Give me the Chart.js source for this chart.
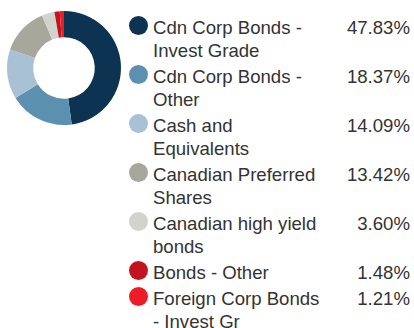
<!DOCTYPE html>
<html>
<head>
<meta charset="utf-8">
<script src="https://cdn.jsdelivr.net/npm/chart.js@4"></script>
<style>
  body { margin: 0; width: 414px; height: 328px; background: #fff; overflow: hidden;
         font-family: "Liberation Sans", Arial, sans-serif; }
  .chartBox { position: absolute; left: 0; top: 0; width: 128px; height: 136px; }
  .legend { position: absolute; left: 129px; top: 16px; width: 281px; color: #333; }
  .item { display: flex; align-items: flex-start; margin-bottom: 3px; }
  .dot { width: 19px; height: 19px; border-radius: 50%; flex: none; }
  .label { width: 175px; margin-left: 5px; font-size: 18.6px; line-height: 23px; }
  .value { flex: 1; text-align: right; font-size: 18.6px; line-height: 23px; }
</style>
</head>
<body>
<div class="chartBox"><canvas class="myChart"></canvas></div>
<div class="legend"></div>
<script>
// sectoren en weging
const categories = [
  "Cdn Corp Bonds - Invest Grade",
  "Cdn Corp Bonds - Other",
  "Cash and Equivalents",
  "Canadian Preferred Shares",
  "Canadian high yield bonds",
  "Bonds - Other",
  "Foreign Corp Bonds - Invest Gr"
];
const weights = [47.83, 18.37, 14.09, 13.42, 3.60, 1.48, 1.21];
const colors = ["#0c3352", "#5c90af", "#a8c1d5", "#a7a79c", "#d3d3ce", "#c1141f", "#ec1c28"];

const myChart = document.querySelector(".myChart");
const legendElement = document.querySelector(".legend");

new Chart(myChart, {
  type: "doughnut",
  data: {
    labels: categories,
    datasets: [{
      data: weights,
      backgroundColor: colors,
      borderWidth: 0
    }]
  },
  options: {
    responsive: true,
    maintainAspectRatio: false,
    animation: false,
    cutout: "54%",
    layout: { padding: 7 },
    plugins: {
      legend: { display: false },
      tooltip: { enabled: false }
    }
  }
});

// legenda met percentages
for (let i = 0; i < categories.length; i++) {
  const item = document.createElement("div");
  item.className = "item";
  item.innerHTML =
    '<span class="dot" style="background:' + colors[i] + '"></span>' +
    '<span class="label">' + categories[i] + '</span>' +
    '<span class="value">' + weights[i].toFixed(2) + '%</span>';
  legendElement.appendChild(item);
}
</script>
</body>
</html>
